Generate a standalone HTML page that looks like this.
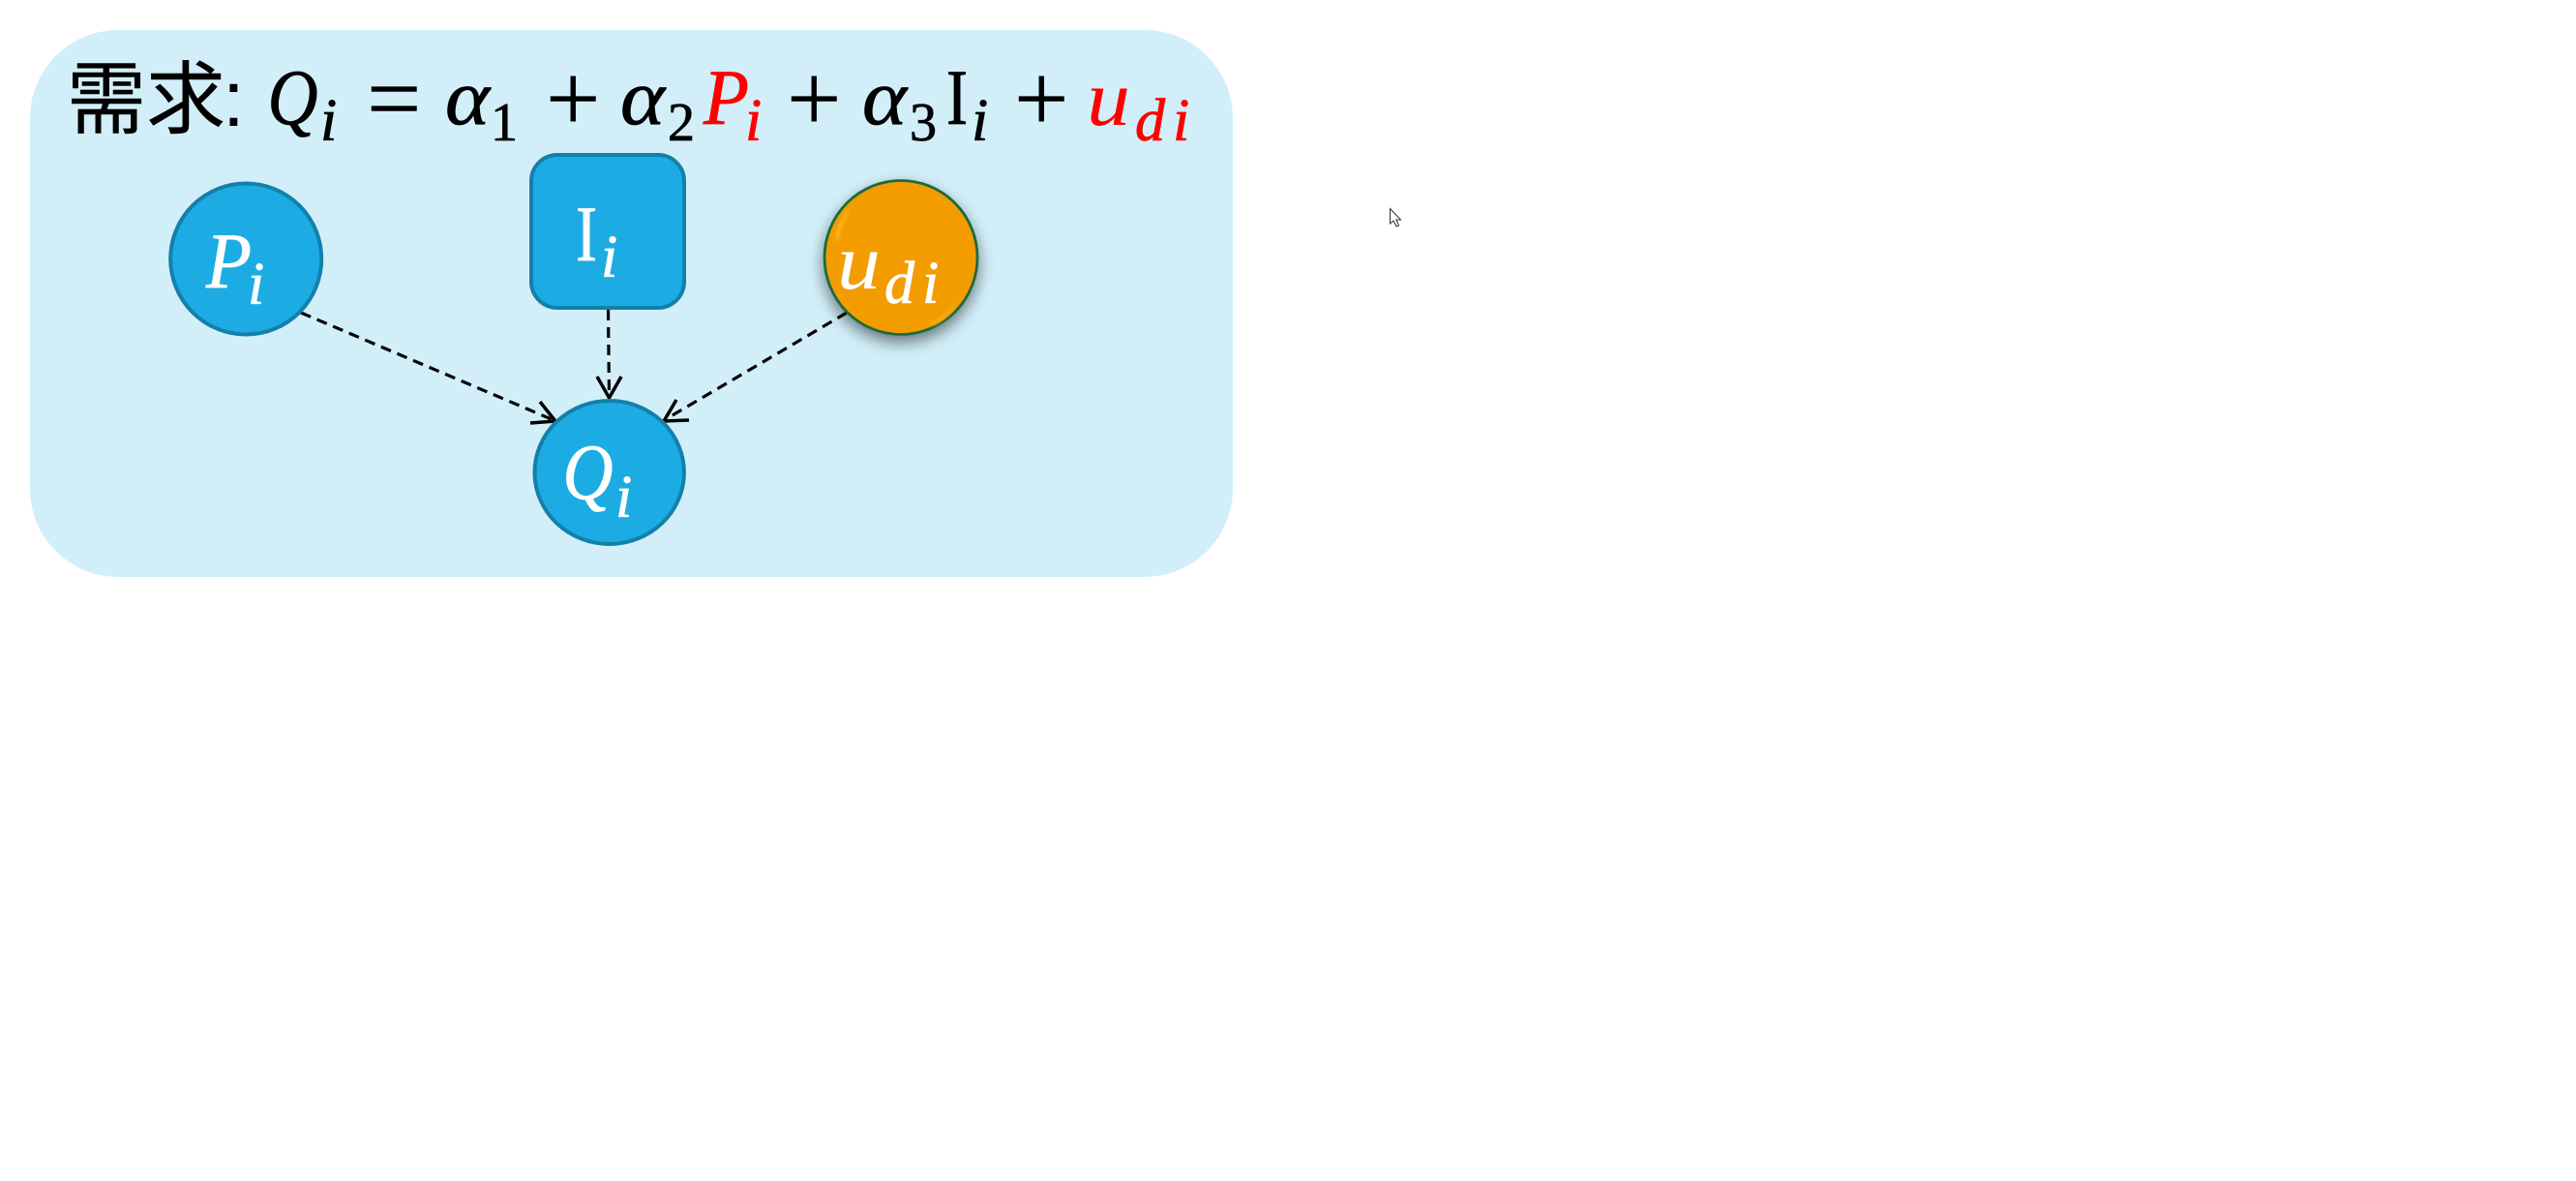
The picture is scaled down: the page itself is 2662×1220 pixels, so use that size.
<!DOCTYPE html>
<html lang="zh">
<head>
<meta charset="utf-8">
<title>需求</title>
<style>
html,body{margin:0;padding:0;background:#fff;width:2662px;height:1220px;overflow:hidden}
svg{display:block}
.m{font-family:"Liberation Serif",serif;font-style:italic;stroke:#000;stroke-width:.8px}
.u{font-family:"Liberation Serif",serif;font-style:normal;stroke:#000;stroke-width:.8px}
.o{font-family:"Liberation Serif",serif;font-style:normal;font-size:100px;stroke:#000;stroke-width:.4px}
.big{font-size:82px}
.sub{font-size:62px}
.num{font-size:56px}
.red{fill:#ff0000;stroke:#ff0000}
.w{fill:#fff;stroke:#fff}
.thin{stroke-width:0}
</style>
</head>
<body>
<svg xmlns="http://www.w3.org/2000/svg" width="2662" height="1220" viewBox="0 0 2662 1220">
<defs>
<filter id="sh" x="-30%" y="-30%" width="160%" height="170%">
<feDropShadow dx="0" dy="7" stdDeviation="8" flood-color="#000" flood-opacity="0.5"/>
</filter>
<filter id="soft" x="-50%" y="-50%" width="200%" height="200%">
<feGaussianBlur stdDeviation="1.5"/>
</filter>
</defs>
<rect x="0" y="0" width="2662" height="1220" fill="#ffffff"/>
<rect x="31" y="31" width="1243" height="565" rx="91" ry="91" fill="#d2eff9"/>

<g fill="#000">
<text x="69" y="131" font-size="82" font-family="'Noto Sans CJK SC','WenQuanYi Zen Hei',sans-serif" stroke="#000" stroke-width="0.4">需求</text>
<text x="230" y="130" font-size="82" font-family="'Liberation Sans',sans-serif">:</text>
<text x="276.500" y="128" class="m big" textLength="52" lengthAdjust="spacingAndGlyphs">Q</text>
<text x="331" y="145" class="m sub">i</text>
<text x="379" y="135" class="o">=</text>
<text x="460" y="128" class="m big" textLength="46" lengthAdjust="spacingAndGlyphs">α</text>
<text x="507" y="145" class="u num">1</text>
<text x="564" y="135" class="o">+</text>
<text x="641" y="128" class="m big" textLength="46" lengthAdjust="spacingAndGlyphs">α</text>
<text x="690" y="145" class="u num">2</text>
<text x="727" y="128" class="m big red" textLength="47" lengthAdjust="spacingAndGlyphs">P</text>
<text x="770" y="145" class="m sub red">i</text>
<text x="813" y="135" class="o">+</text>
<text x="891" y="128" class="m big" textLength="46" lengthAdjust="spacingAndGlyphs">α</text>
<text x="940" y="145" class="u num">3</text>
<text x="978" y="128" class="u big" textLength="22" lengthAdjust="spacingAndGlyphs">I</text>
<text x="1004" y="145" class="m sub">i</text>
<text x="1048" y="135" class="o">+</text>
<text x="1123" y="129" class="m big red thin" textLength="45" lengthAdjust="spacingAndGlyphs">u</text>
<text x="1173" y="145" class="m sub red">d</text>
<text x="1212" y="145" class="m sub red">i</text>
</g>

<g fill="none" stroke="#000" stroke-linecap="butt">
<line x1="311" y1="323" x2="572" y2="434" stroke-width="3.2" stroke-dasharray="11 7"/>
<polyline points="558,415 574,435 548,437" stroke-width="3.5"/>
<line x1="628.500" y1="320" x2="629.500" y2="409" stroke-width="3.2" stroke-dasharray="11 7"/>
<polyline points="617,389 629.500,411 642,389" stroke-width="3.5"/>
<line x1="875" y1="323" x2="688" y2="433" stroke-width="3.2" stroke-dasharray="11 7"/>
<polyline points="699,413 686,435 712,434" stroke-width="3.5"/>
</g>

<g>
<ellipse cx="254.200" cy="267.500" rx="78" ry="78" fill="#1cace3" stroke="#1380ab" stroke-width="4"/>
<text x="213" y="297" class="m big w" textLength="47" lengthAdjust="spacingAndGlyphs">P</text>
<text x="256" y="314" class="m sub w">i</text>
</g>

<g>
<rect x="549" y="160" width="158" height="158" rx="27" ry="27" fill="#1cace3" stroke="#1380ab" stroke-width="4"/>
<text x="595" y="269" class="u big w" textLength="22" lengthAdjust="spacingAndGlyphs">I</text>
<text x="621" y="286" class="m sub w">i</text>
</g>

<g>
<ellipse cx="629.700" cy="488" rx="77.200" ry="74" fill="#1cace3" stroke="#1380ab" stroke-width="4"/>
<text x="581.500" y="515" class="m big w" textLength="52" lengthAdjust="spacingAndGlyphs">Q</text>
<text x="636" y="534" class="m sub w">i</text>
</g>

<g>
<ellipse cx="931" cy="266" rx="79" ry="79.500" fill="#f39c04" stroke="#1a6b3a" stroke-width="2.800" filter="url(#sh)"/>
<path d="M864 245 Q868 225 880 214 Q868 232 866 250 Z" fill="#ffc22e" filter="url(#soft)"/>
<path d="M960 333 Q982 324 994 304 Q984 328 964 337 Z" fill="#fbb01c" opacity="0.7" filter="url(#soft)"/>
<text x="865" y="298" class="m big w thin" textLength="45" lengthAdjust="spacingAndGlyphs">u</text>
<text x="914" y="313" class="m sub w">d</text>
<text x="953" y="313" class="m sub w">i</text>
</g>

<path d="M1436.500 215.500 L1436.500 231 L1440 228 L1443 234 L1445.500 233 L1442.800 227 L1447.500 227 Z" fill="#fff" stroke="#2a2f38" stroke-width="1"/>
</svg>
</body>
</html>
